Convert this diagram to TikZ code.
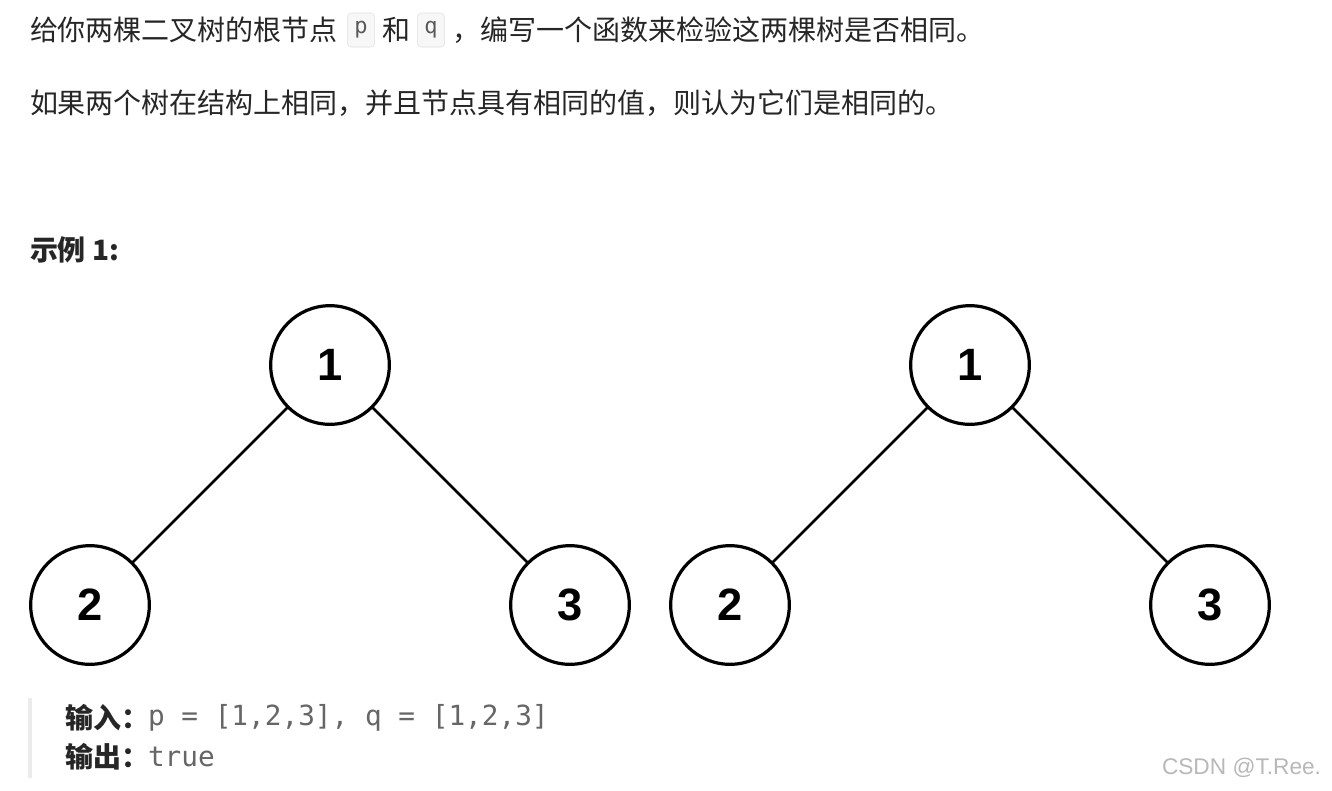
\documentclass[tikz,border=0pt]{standalone}
\usepackage{fontspec}
\setmainfont{Noto Sans CJK SC}
\newfontfamily\numfont{Liberation Sans}
\newfontfamily\codefont{DejaVu Sans Mono}
\usetikzlibrary{positioning}

\begin{document}
\begin{tikzpicture}[
        x=0.75pt,
        y=-0.75pt,
        every node/.style={inner sep=0pt, outer sep=0pt},
        txt/.style={anchor=west, font=\fontsize{21pt}{24pt}\selectfont, text=black!85},
        head/.style={anchor=west, font=\fontsize{21pt}{24pt}\selectfont\bfseries, text=black!85},
        code/.style={draw=black!12, fill=black!3, rounded corners=3pt, minimum width=20.5pt, minimum height=25.5pt, font=\codefont\fontsize{16.5pt}{18pt}\selectfont, text=black!65},
        mono/.style={anchor=west, font=\codefont\fontsize{20.8pt}{24pt}\selectfont, text=black!60},
        tnode/.style={circle, draw, line width=2.4pt, minimum size=89pt, font=\numfont\bfseries\fontsize{34pt}{40pt}\selectfont},
        edge/.style={line width=2pt}
    ]
        \fill[white] (0,0) rectangle (1332,790);
        \useasboundingbox (0,0) rectangle (1332,790);

        % problem text
        \node[txt] (t1a) at (30,30) {给你两棵二叉树的根节点};
        \node[code, right=7pt of t1a] (pbox) {p};
        \node[txt, right=5.5pt of pbox] (t1b) {和};
        \node[code, right=5.5pt of t1b] (qbox) {q};
        \node[txt, right=6pt of qbox] (t1c) {，编写一个函数来检验这两棵树是否相同。};
        \node[txt] (t2) at (30,103) {如果两个树在结构上相同，并且节点具有相同的值，则认为它们是相同的。};
        \node[head] (ex) at (30,250) {示例 1:};

        % the two trees
        \node[tnode] (p1) at (330,365) {1};
        \node[tnode] (p2) at (90,605) {2};
        \node[tnode] (p3) at (570,605) {3};
        \node[tnode] (q1) at (970,365) {1};
        \node[tnode] (q2) at (730,605) {2};
        \node[tnode] (q3) at (1210,605) {3};
        \foreach \r in {p,q} {
            \draw[edge] (\r1) -- (\r2);
            \draw[edge] (\r1) -- (\r3);
        }

        % input / output
        \fill[black!8] (28,698) rectangle (31.5,778);
        \node[head] (inlab) at (65,718) {输入：};
        \node[mono] (inval) at (148,718) {p = [1,2,3], q = [1,2,3]};
        \node[head] (outlab) at (65,757) {输出：};
        \node[mono] (outval) at (148,757) {true};

        \node[anchor=west, font=\numfont\fontsize{17pt}{20pt}\selectfont, text=black!28] (mark) at (1162,768) {CSDN @T.Ree.};
    \end{tikzpicture}
\end{document}
